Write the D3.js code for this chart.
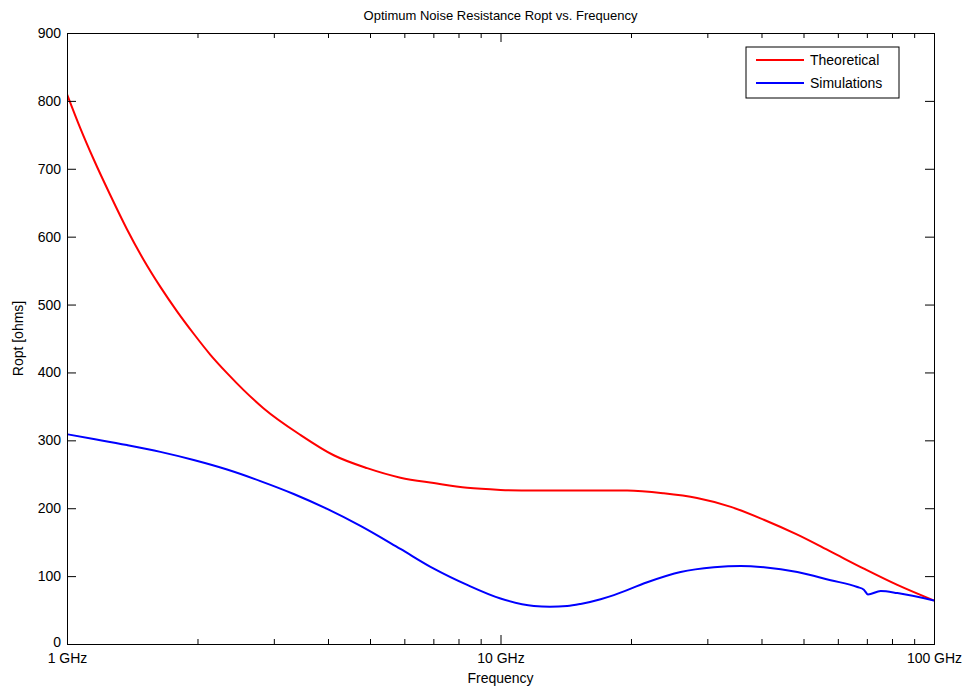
<!DOCTYPE html>
<html>
<head>
<meta charset="utf-8">
<script src="https://cdn.jsdelivr.net/npm/d3@7"></script>
<style>
  body { margin: 0; background: #fff; }
  svg { font-family: "Liberation Sans", Arial, sans-serif; }
</style>
</head>
<body>
<div id="chart"></div>
<script>
// frequencies in GHz, values in ohms
const theoFreq = [1, 1.073, 1.152, 1.259, 1.375, 1.502, 1.642, 1.794, 1.96, 2.142, 2.34, 2.556, 2.843,
  3.455, 4.124, 4.924, 5.877, 7.017, 8.379, 10, 12, 15.3, 19.6, 23.8, 28.4, 34, 40.5, 48.4, 57.8, 68.9, 82.3, 100];
const theoVals = [810, 760, 714, 661, 611, 566, 526, 490, 457, 426, 399, 374, 347,
  308, 278, 259, 245, 237, 230, 227, 226, 226, 226, 222, 215, 202, 183, 161, 136, 111, 87, 64];

const simFreq = [1, 1.152, 1.375, 1.642, 1.96, 2.34, 2.793, 3.334, 3.982, 4.753, 5.877, 7.017, 8.379, 10,
  11.94, 13, 14.25, 15.3, 17.02, 18.26, 21.8, 26.03, 31.07, 35.8, 40.53, 48.39, 57.76, 66.56, 68.9, 70.41,
  75.34, 82.34, 100];
const simVals = [309, 302, 293, 283, 271, 257, 240, 221, 199, 174, 140, 111, 87, 67,
  56, 55, 56, 59, 66, 72, 91, 106, 113, 115, 113, 106, 94, 84, 80, 73,
  78, 75, 64];

const seriesNames = ["Theoretical", "Simulations"];
const seriesColors = ["#ff0000", "#0000ff"];

const majorFreq = [1, 10, 100];
const majorLabels = ["1 GHz", "10 GHz", "100 GHz"];
const minorFreq = [2, 3, 4, 5, 6, 7, 8, 9, 20, 30, 40, 50, 60, 70, 80, 90];
const yTicks = [0, 100, 200, 300, 400, 500, 600, 700, 800, 900];

const W = 968, H = 687;
const x = d3.scaleLog().domain([1, 100]).range([67, 934]);
const y = d3.scaleLinear().domain([0, 900]).range([644, 33]);

const svg = d3.select("#chart").append("svg")
  .attr("width", W).attr("height", H);

svg.append("rect").attr("width", W).attr("height", H).attr("fill", "#fff");

const [x0, x1] = x.range();
const [y0, y1] = y.range();

// data lines, clipped to the plot box
svg.append("clipPath").attr("id", "plot")
  .append("rect").attr("x", x0).attr("y", y1).attr("width", x1 - x0).attr("height", y0 - y1);

const line = d3.line()
  .x((d) => x(d[0]))
  .y((d) => y(d[1]))
  .curve(d3.curveMonotoneX);

const series = [
  d3.zip(theoFreq, theoVals),
  d3.zip(simFreq, simVals),
];

svg.append("g").attr("clip-path", "url(#plot)")
  .selectAll("path")
  .data(series)
  .join("path")
  .attr("d", line)
  .attr("fill", "none")
  .attr("stroke", (d, i) => seriesColors[i])
  .attr("stroke-width", 2);

// axes, ticks pointing inward on all four sides
const fmt = (d) => majorLabels[majorFreq.indexOf(d)];

const axes = svg.append("g");

axes.append("g").attr("transform", `translate(0,${y0})`)
  .call(d3.axisBottom(x).tickValues(majorFreq).tickSize(-9).tickPadding(9).tickFormat(fmt));
axes.append("g").attr("transform", `translate(0,${y0})`)
  .call(d3.axisBottom(x).tickValues(minorFreq).tickSize(-5).tickFormat(""));
axes.append("g").attr("transform", `translate(0,${y1})`)
  .call(d3.axisTop(x).tickValues(majorFreq).tickSize(-9).tickFormat(""));
axes.append("g").attr("transform", `translate(0,${y1})`)
  .call(d3.axisTop(x).tickValues(minorFreq).tickSize(-5).tickFormat(""));
const yAxis = axes.append("g").attr("transform", `translate(${x0},0)`)
  .call(d3.axisLeft(y).tickValues(yTicks).tickSize(-9).tickPadding(6));
axes.append("g").attr("transform", `translate(${x1},0)`)
  .call(d3.axisRight(y).tickValues(yTicks).tickSize(-9).tickFormat(""));

axes.selectAll(".domain").attr("stroke", "#000").attr("stroke-width", 1);
axes.selectAll(".tick line").attr("stroke", "#000");
axes.selectAll(".tick text")
  .attr("fill", "#000")
  .attr("font-size", 14)
  .attr("font-family", "Liberation Sans, Arial, sans-serif");

// the "0" sits a touch above its tick, clear of the "1 GHz" label
yAxis.selectAll(".tick text").filter((d) => d === 0).attr("dy", "0.2em");

// titles
svg.append("text")
  .attr("x", (x0 + x1) / 2).attr("y", 20)
  .attr("text-anchor", "middle").attr("font-size", 13)
  .text("Optimum Noise Resistance Ropt vs. Frequency");

svg.append("text")
  .attr("x", (x0 + x1) / 2).attr("y", 683)
  .attr("text-anchor", "middle").attr("font-size", 14)
  .text("Frequency");

svg.append("text")
  .attr("transform", `translate(23,${(y0 + y1) / 2}) rotate(-90)`)
  .attr("text-anchor", "middle").attr("font-size", 14)
  .text("Ropt [ohms]");

// legend
const legend = svg.append("g").attr("transform", "translate(746,47)");
legend.append("rect")
  .attr("width", 153).attr("height", 51)
  .attr("fill", "#fff").attr("stroke", "#000");

const items = legend.selectAll("g.item")
  .data(seriesNames)
  .join("g")
  .attr("class", "item")
  .attr("transform", (d, i) => `translate(0,${13 + i * 23})`);

items.append("line")
  .attr("x1", 10).attr("x2", 58)
  .attr("stroke", (d, i) => seriesColors[i])
  .attr("stroke-width", 2);

items.append("text")
  .attr("x", 64).attr("dy", "0.35em")
  .attr("font-size", 14)
  .text((d) => d);
</script>
</body>
</html>
